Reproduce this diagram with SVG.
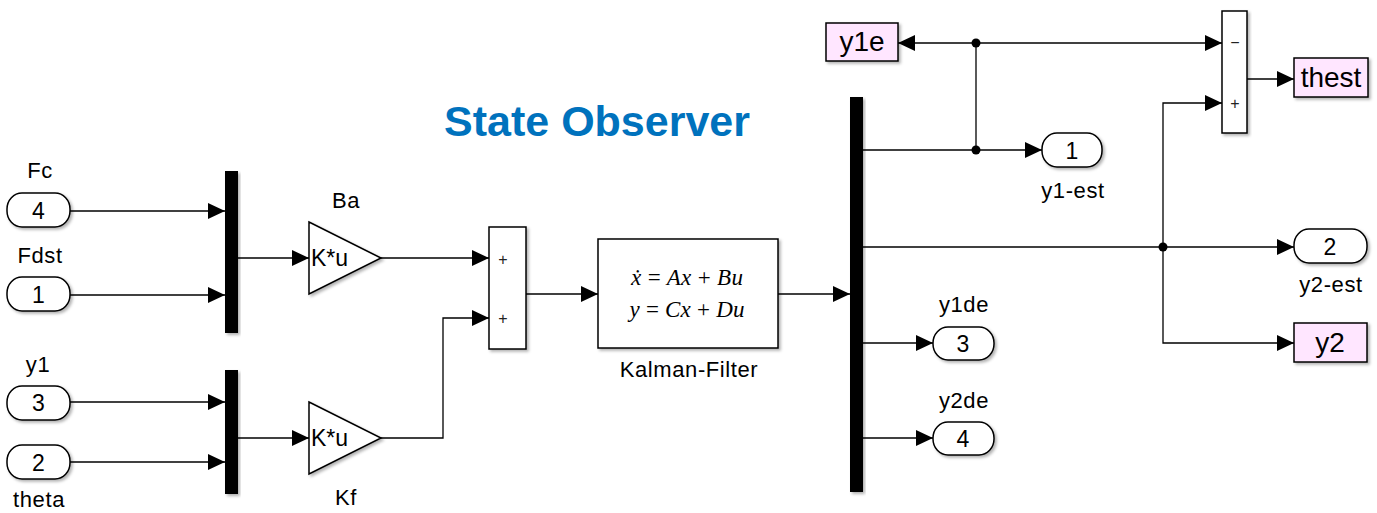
<svg xmlns="http://www.w3.org/2000/svg" width="1377" height="513" viewBox="0 0 1377 513">
<style>
.t{font-family:"Liberation Sans",Arial,sans-serif;fill:#000}
.lbl{font-size:22px;letter-spacing:0.6px;text-anchor:middle}
.num{font-size:23px;text-anchor:middle}
.goto{font-size:28px;text-anchor:middle}
.blk{fill:#fff;stroke:#000;stroke-width:1.5}
.port{fill:#fff;stroke:#000;stroke-width:1.5}
.gt{fill:#ffe6ff;stroke:#000;stroke-width:1.5}
.bar{fill:#000}
.ln{fill:none;stroke:#000;stroke-width:1.3}
.arr{marker-end:url(#ah)}
.eq{font-family:"Liberation Serif","Times New Roman",serif;font-size:23px;font-style:italic;text-anchor:middle;fill:#000}
.sg{font-family:"Liberation Sans",Arial,sans-serif;font-size:16px;text-anchor:middle;fill:#222}
</style>
<defs>
<marker id="ah" markerUnits="userSpaceOnUse" markerWidth="18" markerHeight="18" refX="17" refY="8" orient="auto">
<path d="M0,0 L17,8 L0,16 z" fill="#000"/>
</marker>
<filter id="sh" x="-20%" y="-20%" width="140%" height="140%">
<feDropShadow dx="2" dy="2" stdDeviation="1.5" flood-color="#000" flood-opacity="0.3"/>
</filter>
</defs>
<rect width="1377" height="513" fill="#fff"/>

<text class="t" x="597" y="136" font-size="43" font-weight="bold" text-anchor="middle" style="fill:#0072BD">State Observer</text>

<g id="connectors">
<path class="ln arr" d="M70,211 H225"/>
<path class="ln arr" d="M70,295 H225"/>
<path class="ln arr" d="M70,402 H225"/>
<path class="ln arr" d="M70,462 H225"/>
<path class="ln arr" d="M238,258 H309"/>
<path class="ln arr" d="M238,438 H309"/>
<path class="ln arr" d="M381,258 H489"/>
<path class="ln arr" d="M381,438 H443 V318 H489"/>
<path class="ln arr" d="M526,294 H598"/>
<path class="ln arr" d="M778,294 H850"/>
<path class="ln arr" d="M863,150 H1042"/>
<path class="ln" d="M976,150 V43"/>
<path class="ln arr" d="M976,43 H898"/>
<path class="ln arr" d="M976,43 H1222"/>
<path class="ln arr" d="M863,247 H1294"/>
<path class="ln arr" d="M1163,247 V103 H1222"/>
<path class="ln arr" d="M1163,247 V343 H1294"/>
<path class="ln arr" d="M863,343 H933"/>
<path class="ln arr" d="M863,438 H933"/>
<path class="ln arr" d="M1247,79 H1294"/>
<circle cx="976" cy="150" r="4.5"/>
<circle cx="976" cy="43" r="4.5"/>
<circle cx="1163" cy="247" r="4.5"/>
</g>

<g id="in_Fc">
<rect class="port" x="7" y="193" width="63" height="34" rx="15" ry="16" filter="url(#sh)"/>
<text class="t num" x="38.5" y="218.5">4</text>
<text class="t lbl" x="40" y="178">Fc</text>
</g>
<g id="in_Fdst">
<rect class="port" x="7" y="277" width="63" height="34" rx="15" ry="16" filter="url(#sh)"/>
<text class="t num" x="38.5" y="302.5">1</text>
<text class="t lbl" x="40" y="263">Fdst</text>
</g>
<g id="in_y1">
<rect class="port" x="7" y="386" width="63" height="34" rx="15" ry="16" filter="url(#sh)"/>
<text class="t num" x="38.5" y="411">3</text>
<text class="t lbl" x="38" y="372">y1</text>
</g>
<g id="in_theta">
<rect class="port" x="7" y="445" width="63" height="34" rx="15" ry="16" filter="url(#sh)"/>
<text class="t num" x="38.5" y="470.5">2</text>
<text class="t lbl" x="39" y="507">theta</text>
</g>

<g id="mux1"><rect class="bar" x="225" y="171" width="13" height="162" filter="url(#sh)"/></g>
<g id="mux2"><rect class="bar" x="225" y="370" width="13" height="124" filter="url(#sh)"/></g>

<g id="gain_Ba">
<polygon class="blk" points="309,222 381,258 309,294" filter="url(#sh)"/>
<text class="t" x="311" y="266" font-size="23">K*u</text>
<text class="t lbl" x="346" y="208">Ba</text>
</g>
<g id="gain_Kf">
<polygon class="blk" points="309,402 381,438 309,474" filter="url(#sh)"/>
<text class="t" x="311" y="446" font-size="23">K*u</text>
<text class="t lbl" x="346" y="505">Kf</text>
</g>

<g id="sum1">
<rect class="blk" x="489" y="227" width="37" height="122" filter="url(#sh)"/>
<text class="sg" x="503" y="265">+</text>
<text class="sg" x="503" y="324">+</text>
</g>

<g id="kalman">
<rect class="blk" x="598" y="239" width="180" height="109" filter="url(#sh)"/>
<text class="eq" x="687" y="285" textLength="112" lengthAdjust="spacing">ẋ <tspan font-style="normal">=</tspan> Ax <tspan font-style="normal">+</tspan> Bu</text>
<text class="eq" x="687" y="317" textLength="115" lengthAdjust="spacing">y <tspan font-style="normal">=</tspan> Cx <tspan font-style="normal">+</tspan> Du</text>
<text class="t lbl" x="689" y="377">Kalman-Filter</text>
</g>

<g id="demux"><rect class="bar" x="850" y="97" width="13" height="395" filter="url(#sh)"/></g>

<g id="out_y1est">
<rect class="port" x="1042" y="133" width="60" height="34" rx="15" ry="16" filter="url(#sh)"/>
<text class="t num" x="1072" y="158.5">1</text>
<text class="t lbl" x="1073" y="198">y1-est</text>
</g>
<g id="out_y2est">
<rect class="port" x="1294" y="229" width="73" height="34" rx="15" ry="16" filter="url(#sh)"/>
<text class="t num" x="1330" y="254.5">2</text>
<text class="t lbl" x="1331" y="292">y2-est</text>
</g>
<g id="out_y1de">
<rect class="port" x="933" y="327" width="61" height="33" rx="15" ry="16" filter="url(#sh)"/>
<text class="t num" x="963" y="351.5">3</text>
<text class="t lbl" x="964" y="312">y1de</text>
</g>
<g id="out_y2de">
<rect class="port" x="933" y="422" width="61" height="33" rx="15" ry="16" filter="url(#sh)"/>
<text class="t num" x="963" y="446.5">4</text>
<text class="t lbl" x="964" y="408">y2de</text>
</g>

<g id="goto_y1e">
<rect class="gt" x="826" y="23" width="72" height="38" filter="url(#sh)"/>
<text class="t goto" x="862" y="51">y1e</text>
</g>
<g id="sum2">
<rect class="blk" x="1222" y="11" width="25" height="122" filter="url(#sh)"/>
<text class="sg" x="1235" y="48">−</text>
<text class="sg" x="1235" y="109">+</text>
</g>
<g id="goto_thest">
<rect class="gt" x="1294" y="58" width="74" height="39" filter="url(#sh)"/>
<text class="t goto" x="1331" y="87">thest</text>
</g>
<g id="goto_y2">
<rect class="gt" x="1294" y="323" width="73" height="39" filter="url(#sh)"/>
<text class="t goto" x="1330" y="352">y2</text>
</g>
</svg>
